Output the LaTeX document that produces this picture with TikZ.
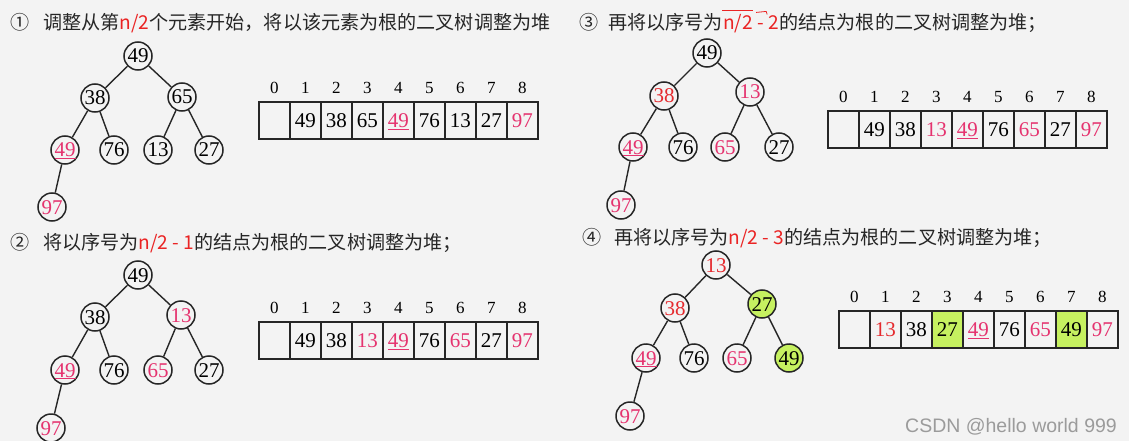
\documentclass[tikz,border=0pt]{standalone}
\usepackage{fontspec}
\setmainfont{Liberation Serif}
\newfontfamily\cjkfont{Noto Sans CJK SC}
\newfontfamily\markfont{Liberation Sans}
\usepackage{xcolor}
\usetikzlibrary{matrix,positioning}
\definecolor{bggray}{HTML}{F3F3F3}
\definecolor{inkgray}{HTML}{262626}
\definecolor{keypink}{HTML}{E5336F}
\definecolor{keyred}{HTML}{E52A2E}
\definecolor{titlered}{HTML}{EA2424}
\definecolor{swapgreen}{HTML}{C6F160}
\definecolor{markgray}{HTML}{9B9B9B}
\tikzset{
	heapnode/.style={circle, draw=inkgray, line width=1.5pt, fill=bggray, minimum size=28pt, inner sep=0pt, font=\fontsize{21}{21}\selectfont, text height=14pt, text depth=0pt},
	pk/.style={text=keypink},
	rd/.style={text=keyred},
	sw/.style={fill=swapgreen},
	edge/.style={draw=inkgray, line width=1.4pt},
	arrcell/.style={draw=inkgray, line width=1.5pt, minimum width=31pt, minimum height=37pt, font=\fontsize{21}{21}\selectfont, text height=14pt, text depth=0pt},
	idxlabel/.style={minimum width=31pt, minimum height=20pt, font=\fontsize{17}{17}\selectfont},
	heaparray/.style={matrix of nodes, nodes in empty cells, ampersand replacement=\&, anchor=north west, inner sep=0pt, column sep=-1.5pt, row sep=3pt, nodes={inner sep=0pt, outer sep=0pt}, row 1/.style={nodes=idxlabel}, row 2/.style={nodes=arrcell}},
	titletext/.style={inner sep=0pt, text=inkgray, font=\cjkfont\fontsize{19.1}{20}\selectfont},
	wmark/.style={inner sep=0pt, text=markgray, font=\markfont\fontsize{19.5}{20}\selectfont}
}
\newcommand{\linkheap}[1]{
	\foreach \p/\c in {1/2,1/3,2/4,2/5,3/6,3/7,4/8}
		\draw[edge] (#1\p) -- (#1\c);
}

\begin{document}
\begin{tikzpicture}[x=1pt, y=-1pt]
	\fill[bggray] (0,0) rectangle (1129,441);
	\useasboundingbox (0,0) rectangle (1129,441);

	% Step 1 is drawn
	\node[titletext, anchor=base] (a-num) at (20,29.5) {①};
	\node[titletext, anchor=base west] (a-title) at (43,29.5) {调整从第\textcolor{titlered}{n/2}个元素开始，将以该元素为根的二叉树调整为堆};

	\node[heapnode] (a1) at (138,56) {49};
	\node[heapnode] (a2) at (95,98) {38};
	\node[heapnode] (a3) at (182,97) {65};
	\node[heapnode, pk] (a4) at (65,150) {\underline{49}};
	\node[heapnode] (a5) at (114,150) {76};
	\node[heapnode] (a6) at (158,150) {13};
	\node[heapnode] (a7) at (209,150) {27};
	\node[heapnode, pk] (a8) at (52,207) {97};
	\linkheap{a}

	\matrix (tabA) [heaparray] at (258,78) {
		0 \& 1 \& 2 \& 3 \& 4 \& 5 \& 6 \& 7 \& 8 \\
		\& 49 \& 38 \& 65 \& |[pk]| \underline{49} \& 76 \& 13 \& 27 \& |[pk]| 97 \\
	};

	% Step 2 is drawn
	\node[titletext, anchor=base] (b-num) at (20,249.5) {②};
	\node[titletext, anchor=base west] (b-title) at (43,249.5) {将以序号为\textcolor{titlered}{n/2 - 1}的结点为根的二叉树调整为堆；};

	\node[heapnode] (b1) at (138,275) {49};
	\node[heapnode] (b2) at (95,317) {38};
	\node[heapnode, pk] (b3) at (181,315) {13};
	\node[heapnode, pk] (b4) at (65,370) {\underline{49}};
	\node[heapnode] (b5) at (114,370) {76};
	\node[heapnode, pk] (b6) at (158,370) {65};
	\node[heapnode] (b7) at (209,370) {27};
	\node[heapnode, pk] (b8) at (51,428) {97};
	\linkheap{b}

	\matrix (tabB) [heaparray] at (258,298) {
		0 \& 1 \& 2 \& 3 \& 4 \& 5 \& 6 \& 7 \& 8 \\
		\& 49 \& 38 \& |[pk]| 13 \& |[pk]| \underline{49} \& 76 \& |[pk]| 65 \& 27 \& |[pk]| 97 \\
	};

	% Step 3 is drawn
	\node[titletext, anchor=base] (c-num) at (589,29.5) {③};
	\node[titletext, anchor=base west] (c-head) at (608,29.5) {再将以序号为};
	\node[titletext, text=titlered, anchor=base west] (c-n) at (c-head.base east) {n/2};
	\node[titletext, text=titlered, anchor=base west] (c-k) at (c-n.base east) {\ - 2};
	\node[titletext, anchor=base west] (c-tail) at (c-k.base east) {的结点为根的二叉树调整为堆；};
	\draw[titlered, line width=0.8pt] ([xshift=-1pt, yshift=4pt]c-n.north west) -- ([yshift=4pt]c-n.north east);
	\draw[titlered, line width=0.8pt] ([xshift=3pt, yshift=3pt]c-k.north west) -- ([xshift=13pt, yshift=4pt]c-k.north west) -- ([xshift=14pt, yshift=1pt]c-k.north west);

	\node[heapnode] (c1) at (707,53) {49};
	\node[heapnode, rd] (c2) at (664,96) {38};
	\node[heapnode, pk] (c3) at (750,92) {13};
	\node[heapnode, pk] (c4) at (633,147) {\underline{49}};
	\node[heapnode] (c5) at (683,147) {76};
	\node[heapnode, pk] (c6) at (725,147) {65};
	\node[heapnode] (c7) at (779,147) {27};
	\node[heapnode, pk] (c8) at (621,205) {97};
	\linkheap{c}

	\matrix (tabC) [heaparray] at (827,87) {
		0 \& 1 \& 2 \& 3 \& 4 \& 5 \& 6 \& 7 \& 8 \\
		\& 49 \& 38 \& |[pk]| 13 \& |[pk]| \underline{49} \& 76 \& |[pk]| 65 \& 27 \& |[pk]| 97 \\
	};

	% Step 4 is drawn
	\node[titletext, anchor=base] (d-num) at (592,244.5) {④};
	\node[titletext, anchor=base west] (d-title) at (614,244.5) {再将以序号为\textcolor{titlered}{n/2 - 3}的结点为根的二叉树调整为堆；};

	\node[heapnode, rd] (d1) at (716,265) {13};
	\node[heapnode, rd] (d2) at (675,308) {38};
	\node[heapnode, sw] (d3) at (762,304) {27};
	\node[heapnode, pk] (d4) at (646,358) {\underline{49}};
	\node[heapnode] (d5) at (694,358) {76};
	\node[heapnode, pk] (d6) at (737,358) {65};
	\node[heapnode, sw] (d7) at (789,358) {49};
	\node[heapnode, pk] (d8) at (630,416) {97};
	\linkheap{d}

	\matrix (tabD) [heaparray] at (838,287) {
		0 \& 1 \& 2 \& 3 \& 4 \& 5 \& 6 \& 7 \& 8 \\
		\& |[rd]| 13 \& 38 \& |[sw]| 27 \& |[pk]| \underline{49} \& 76 \& |[pk]| 65 \& |[sw]| 49 \& |[pk]| 97 \\
	};

	\node[wmark, anchor=base west] (mark) at (905,432) {CSDN @hello world 999};
\end{tikzpicture}
\end{document}
